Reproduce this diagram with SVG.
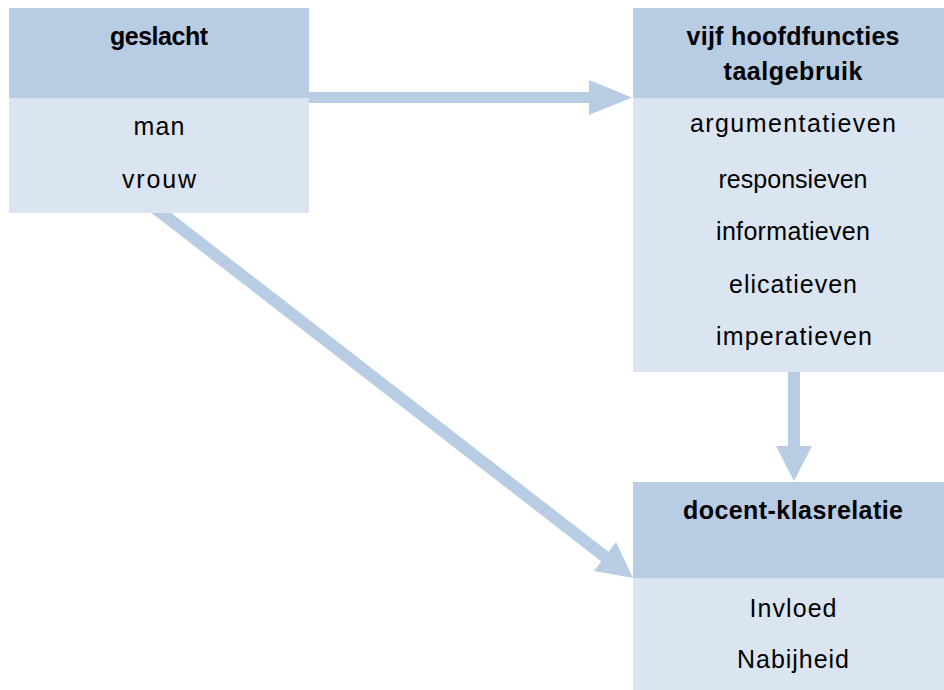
<svg xmlns="http://www.w3.org/2000/svg" width="944" height="690" viewBox="0 0 944 690">
<style>
.hd{fill:#b8cce4}
.bd{fill:#dbe5f1}
.ar{fill:#b8cce4}
text{font-family:"Liberation Sans",Arial,sans-serif;font-size:25px;fill:#000;text-anchor:middle}
.b{font-weight:bold}
</style>
<rect width="944" height="690" fill="#ffffff"/>
<g id="connectors">
<g id="arrow-geslacht-functies">
<rect class="ar" x="300" y="92" width="292" height="11"/>
<polygon class="ar" points="589,80 632,97.5 589,115"/>
</g>
<g id="arrow-functies-relatie">
<rect class="ar" x="788" y="365" width="12" height="83"/>
<polygon class="ar" points="776,446 812,446 794,481"/>
</g>
<g id="arrow-geslacht-relatie">
<line x1="155" y1="208" x2="608" y2="559" stroke="#b8cce4" stroke-width="12"/>
<polygon class="ar" points="633,578 594,571 616,542"/>
</g>
</g>
<g id="node-geslacht">
<rect class="hd" x="9" y="8" width="300" height="90"/>
<rect class="bd" x="9" y="98" width="300" height="115"/>
<text class="b" x="159" y="45" textLength="98">geslacht</text>
<text x="159" y="135" textLength="51">man</text>
<text x="159" y="188" textLength="74">vrouw</text>
</g>
<g id="node-functies">
<rect class="hd" x="633" y="8" width="320" height="90"/>
<rect class="bd" x="633" y="98" width="320" height="274"/>
<text class="b" x="793" y="45" textLength="213">vijf hoofdfuncties</text>
<text class="b" x="793" y="80" textLength="139">taalgebruik</text>
<text x="793" y="132" font-size="26" textLength="206">argumentatieven</text>
<text x="793" y="188" textLength="149">responsieven</text>
<text x="793" y="240" textLength="154">informatieven</text>
<text x="793" y="293" textLength="128">elicatieven</text>
<text x="794" y="345" textLength="156">imperatieven</text>
</g>
<g id="node-relatie">
<rect class="hd" x="633" y="482" width="320" height="96"/>
<rect class="bd" x="633" y="578" width="320" height="120"/>
<text class="b" x="793" y="519" textLength="220">docent-klasrelatie</text>
<text x="793" y="617" textLength="87">Invloed</text>
<text x="793" y="668" textLength="112">Nabijheid</text>
</g>
</svg>
